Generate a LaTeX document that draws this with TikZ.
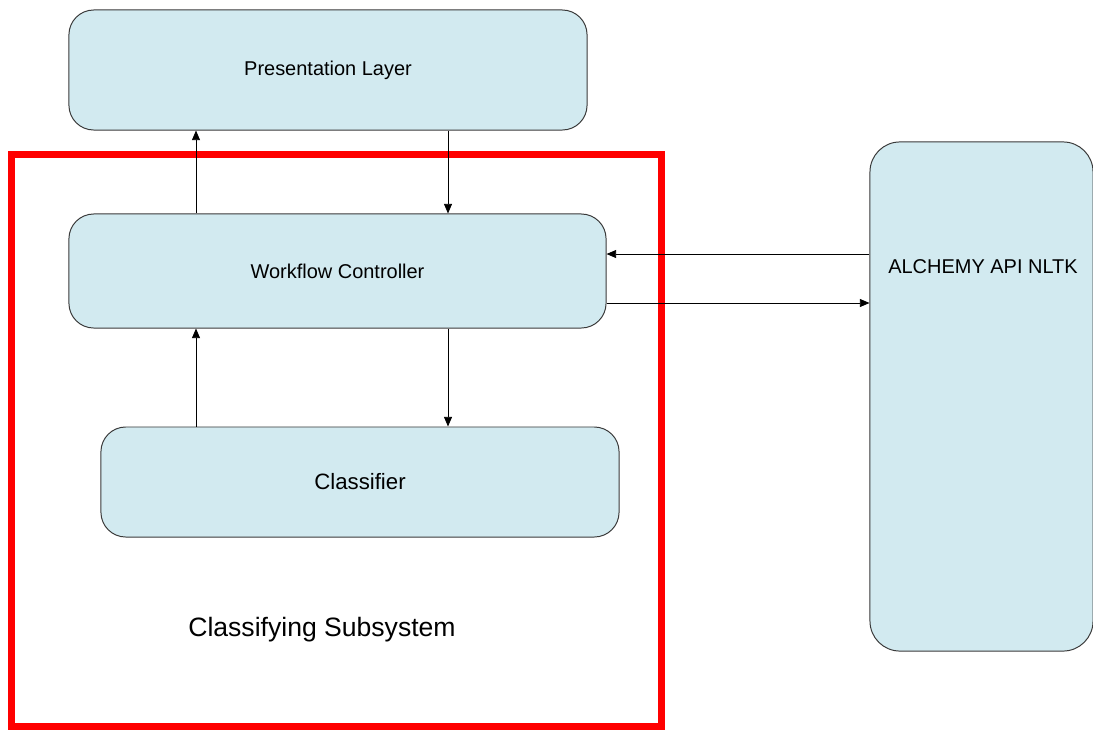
\documentclass[tikz,border=0pt]{standalone}
\usepackage{fontspec}
\setmainfont{Liberation Sans}
\usetikzlibrary{arrows.meta}
\definecolor{boxfill}{HTML}{D2EAF0}
\definecolor{boxline}{HTML}{3A3A3A}
\definecolor{frame}{HTML}{FF0000}
\tikzset{
  block/.style={draw=boxline,fill=boxfill,line width=0.7pt,rounded corners=0.62cm,inner sep=0pt,
    font=\fontsize{14.2}{17}\selectfont},
  link/.style={-{Triangle[length=0.24cm,width=0.2cm]},black,line width=0.6pt}
}

\begin{document}
\begin{tikzpicture}[x=0.025cm,y=-0.025cm]
\useasboundingbox (0,0) rectangle (1093,731);
% subsystem frame
\draw [frame,line width=5pt] (11.5,154.5) rectangle (661.5,726.5);
\node (subsys) at (322,630) {\fontsize{18.9}{22}\selectfont Classifying Subsystem};
% blocks
\node [block,minimum width=12.95cm,minimum height=3cm] (pres) at (328,70) {Presentation Layer};
\node [block,minimum width=13.425cm,minimum height=2.85cm] (wfc) at (337.5,271) {Workflow Controller};
\node [block,minimum width=12.95cm,minimum height=2.75cm,font=\fontsize{15.8}{19}\selectfont] (clf) at (360,482) {Classifier};
\node [block,minimum width=5.575cm,minimum height=12.725cm,rounded corners=0.75cm] (api) at (981.5,396.5) {};
\node [font=\fontsize{14.2}{17}\selectfont] (apitxt) at (983,267) {ALCHEMY API NLTK};
% connectors
\coordinate (colL) at (196,0);
\coordinate (colR) at (448,0);
\coordinate (rowA) at (0,254);
\coordinate (rowB) at (0,303);
\draw [link] (wfc.north -| colL) -- (pres.south -| colL);
\draw [link] (pres.south -| colR) -- (wfc.north -| colR);
\draw [link] (clf.north -| colL) -- (wfc.south -| colL);
\draw [link] (wfc.south -| colR) -- (clf.north -| colR);
\draw [link] (api.west |- rowA) -- (wfc.east |- rowA);
\draw [link] (wfc.east |- rowB) -- (api.west |- rowB);
\end{tikzpicture}
\end{document}
